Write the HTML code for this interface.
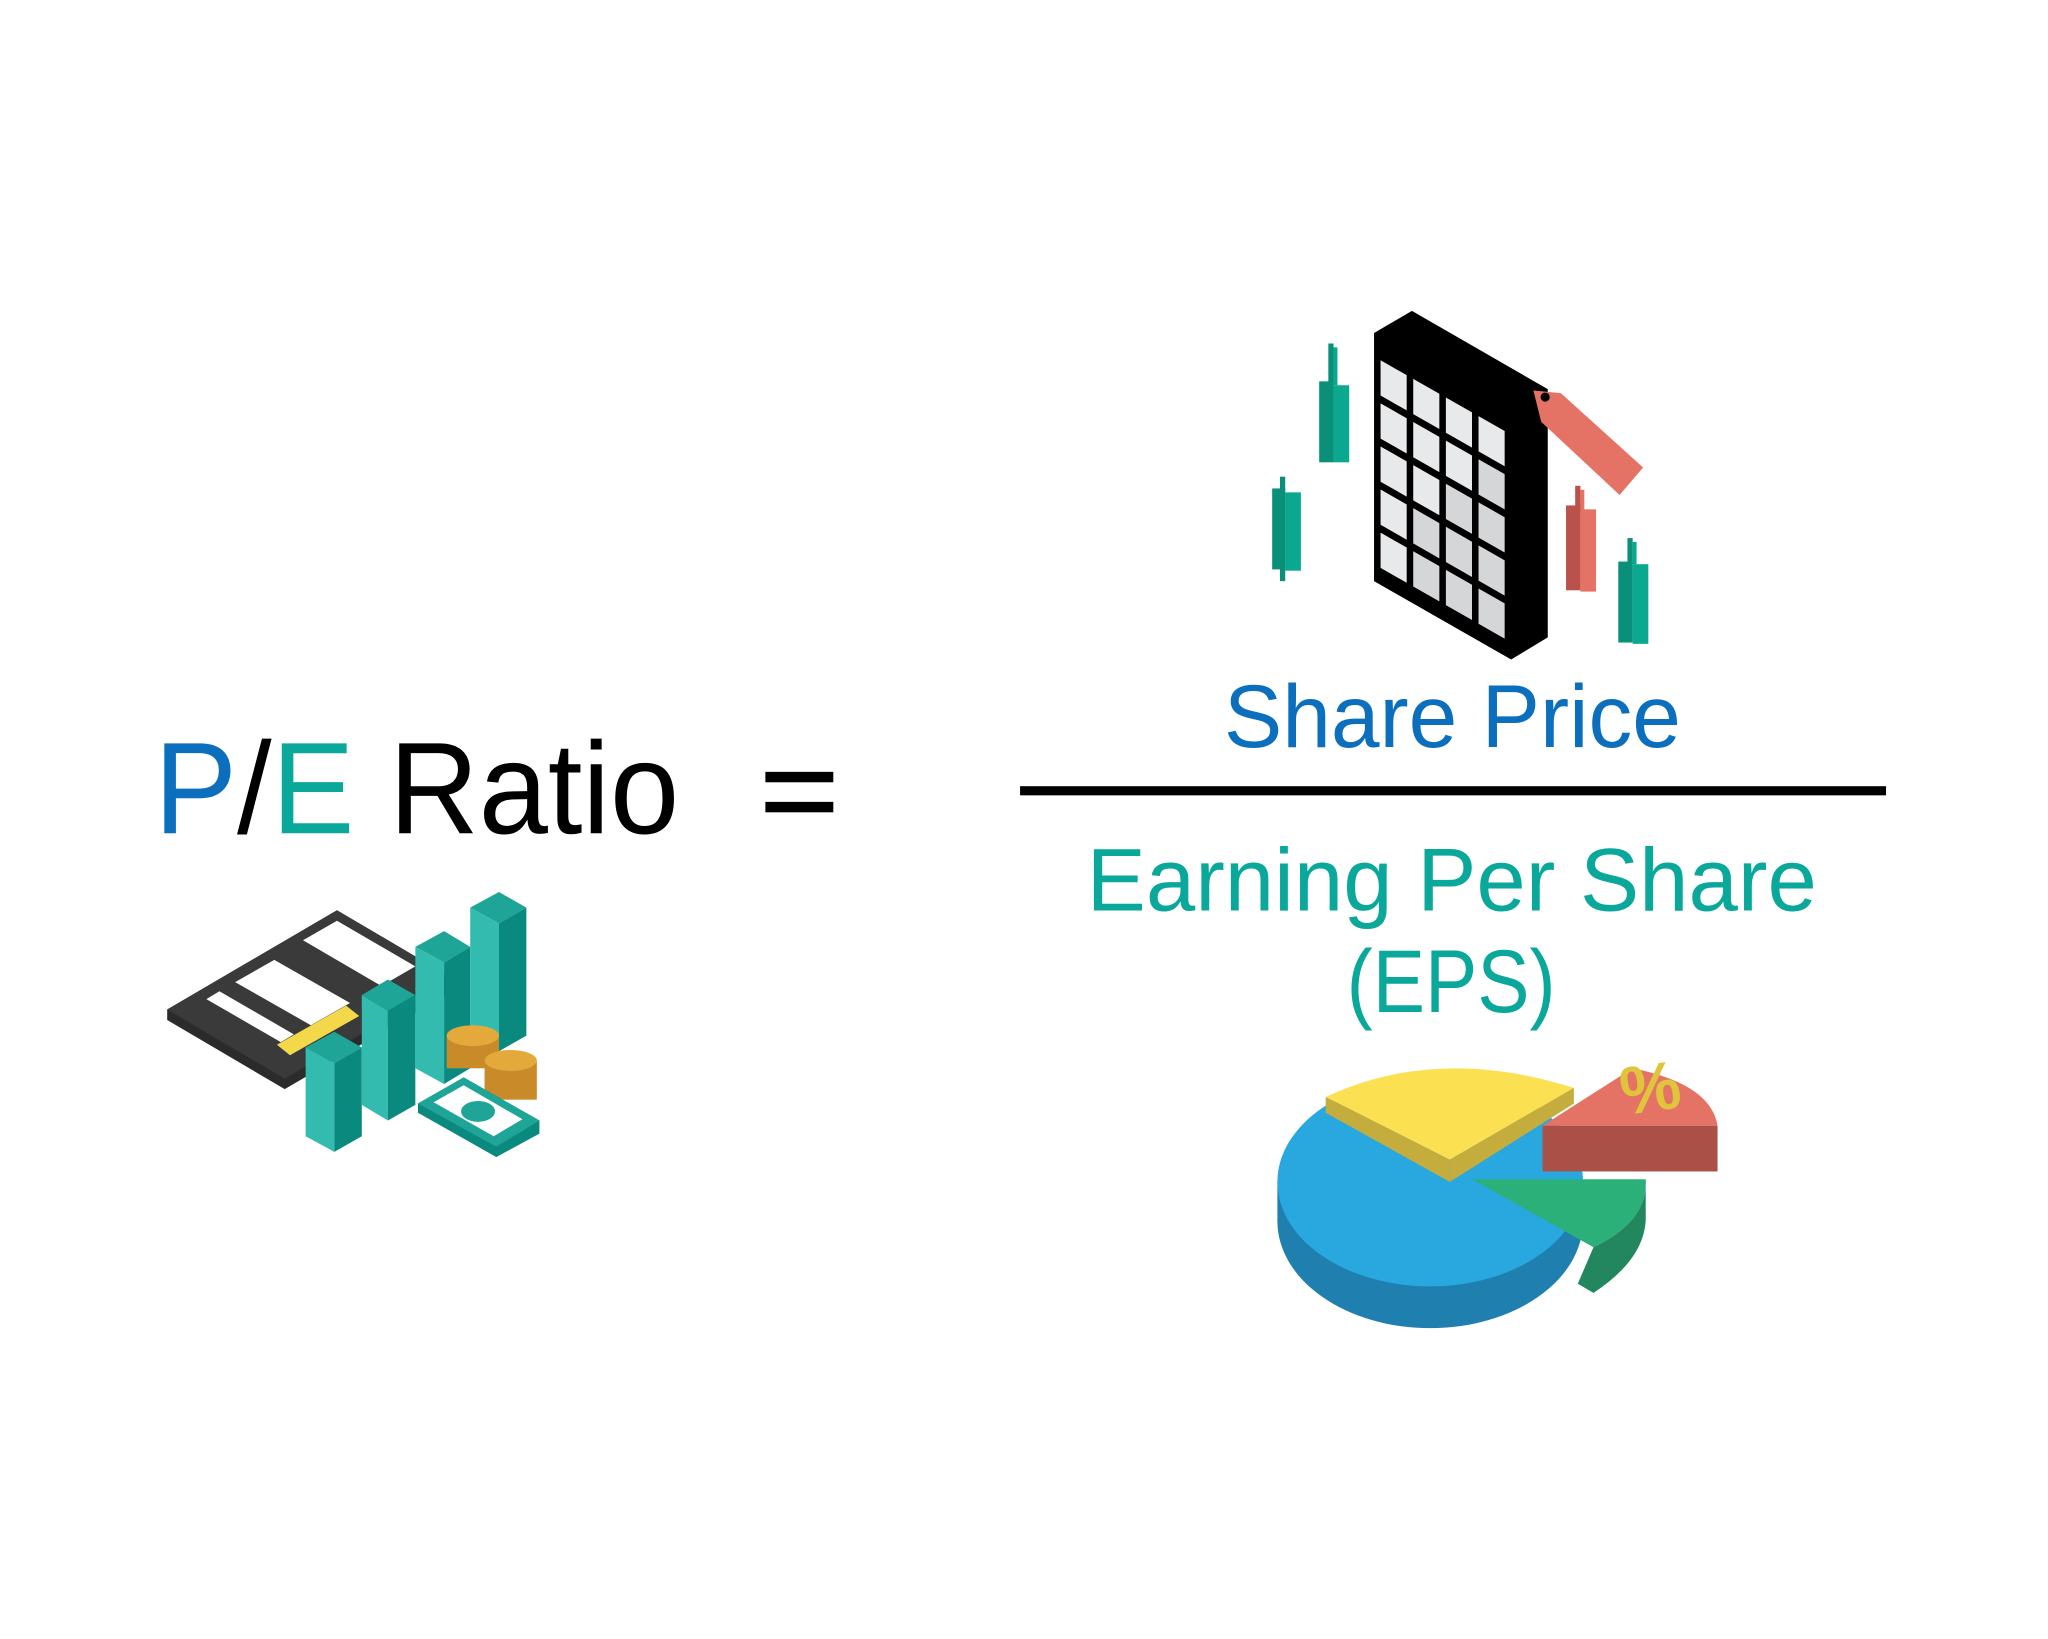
<!DOCTYPE html>
<html><head><style>html,body{margin:0;padding:0;background:#fff}svg{display:block}</style></head>
<body>
<svg width="2048" height="1639" viewBox="0 0 1568 1255" preserveAspectRatio="none" xmlns="http://www.w3.org/2000/svg" font-family="'Liberation Sans', 'DejaVu Sans', sans-serif">
<rect width="1568" height="1255" fill="#fff"/>
<text x="118" y="638" font-size="100" textLength="402" lengthAdjust="spacingAndGlyphs"><tspan fill="#0b6fbd">P</tspan><tspan fill="#000">/</tspan><tspan fill="#0aa89a">E</tspan><tspan fill="#000"> Ratio</tspan></text>
<rect x="586" y="591" width="52" height="8" fill="#000"/>
<rect x="586" y="614" width="52" height="8" fill="#000"/>
<text x="937" y="572" font-size="68" fill="#0b6fbd" textLength="350" lengthAdjust="spacingAndGlyphs">Share Price</text>
<rect x="781" y="602" width="663" height="7" fill="#000"/>
<text x="832" y="697" font-size="68" fill="#0aa89a" textLength="559" lengthAdjust="spacingAndGlyphs">Earning Per Share</text>
<text x="1031" y="775" font-size="68" fill="#0aa89a" textLength="160" lengthAdjust="spacingAndGlyphs">(EPS)</text>

<polygon points="1052,255 1081,238 1185,298 1185,488 1157,505 1052,445" fill="#000"/>
<g transform="translate(1052,255) skewY(29.7)">
  <g fill="#e8e9ea">
    <rect x="5" y="18" width="20" height="27"/><rect x="30" y="18" width="20" height="27"/><rect x="55" y="18" width="20" height="27"/><rect x="80" y="18" width="20" height="27"/>
    <rect x="5" y="51" width="20" height="27"/><rect x="30" y="51" width="20" height="27"/><rect x="55" y="51" width="20" height="27"/><rect x="80" y="51" width="20" height="27" fill="#d5d6d8"/>
    <rect x="5" y="84" width="20" height="27"/><rect x="30" y="84" width="20" height="27"/><rect x="55" y="84" width="20" height="27" fill="#d5d6d8"/><rect x="80" y="84" width="20" height="27" fill="#d5d6d8"/>
    <rect x="5" y="117" width="20" height="27"/><rect x="30" y="117" width="20" height="27" fill="#d5d6d8"/><rect x="55" y="117" width="20" height="27" fill="#d5d6d8"/><rect x="80" y="117" width="20" height="27" fill="#d5d6d8"/>
    <rect x="5" y="150" width="20" height="27"/><rect x="30" y="150" width="20" height="27" fill="#d5d6d8"/><rect x="55" y="150" width="20" height="27" fill="#d5d6d8"/><rect x="80" y="150" width="20" height="27" fill="#d5d6d8"/>
  </g>
</g>
<polygon points="1174,299 1195,301 1258,358 1240,379 1180,323" fill="#e57365"/>
<circle cx="1183" cy="304" r="3.5" fill="#000"/>
<g>
  <rect x="1017" y="263" width="4" height="32" fill="#0a8f78"/><rect x="1021" y="266" width="3" height="29" fill="#0aa88f"/>
  <rect x="1010" y="292" width="11" height="62" fill="#0a8f78"/><rect x="1021" y="295" width="12" height="59" fill="#0aa88f"/>
  <rect x="980" y="365" width="4" height="80" fill="#0a8f78"/>
  <rect x="974" y="374" width="10" height="62" fill="#0a8f78"/><rect x="984" y="377" width="12" height="60" fill="#0aa88f"/>
  <rect x="1206" y="372" width="4" height="20" fill="#b9524a"/><rect x="1210" y="375" width="3" height="17" fill="#e57365"/>
  <rect x="1199" y="387" width="11" height="65" fill="#b9524a"/><rect x="1210" y="390" width="12" height="63" fill="#e57365"/>
  <rect x="1246" y="412" width="4" height="20" fill="#0a8f78"/><rect x="1250" y="415" width="3" height="17" fill="#0aa88f"/>
  <rect x="1239" y="430" width="11" height="62" fill="#0a8f78"/><rect x="1250" y="432" width="12" height="61" fill="#0aa88f"/>
</g>

<g>
  <ellipse cx="1095" cy="935" rx="117" ry="82" fill="#1f80b0"/>
  <rect x="978" y="905" width="234" height="30" fill="#1f80b0"/>
  <ellipse cx="1095" cy="905" rx="117" ry="80" fill="#29a8e0"/>
  <path d="M1110,888 L1015,840 Q1100,800 1205,833 Z" fill="#fbe052"/>
  <path d="M1015,840 L1015,852 L1110,905 L1110,888 Z" fill="#c4ad3c"/>
  <path d="M1110,888 L1205,833 L1205,845 L1110,905 Z" fill="#c4ad3c"/>
  <path d="M1127,903 L1260,903 Q1262,935 1220,955 Z" fill="#2bb07a"/>
  <path d="M1220,955 Q1262,935 1260,903 L1260,935 Q1258,965 1220,990 L1208,983 L1220,955 Z" fill="#22865e"/>
  <path d="M1181,862 L1250,818 Q1310,830 1315,862 Z" fill="#e57365"/>
  <rect x="1181" y="862" width="134" height="35" fill="#aa5047"/>
  <text x="1240" y="850" font-size="52" font-weight="bold" fill="#e0c43c" transform="rotate(-8 1270 830)">%</text>
</g>

<g>
  <polygon points="128,773 258,697 348,750 348,758 218,834 128,781" fill="#2b2b2b"/>
  <polygon points="128,773 258,697 348,750 218,826" fill="#3a3a3a"/>
  <polygon points="232,720 258,705 318,740 292,755" fill="#ffffff"/>
  <g fill="#fff">
    <polygon points="180,752 210,735 268,768 238,785"/>
    <polygon points="158,765 168,759 225,792 215,798"/>
  </g>
  <polygon points="212,800 265,770 275,778 222,808" fill="#f3d84a"/>
  <polygon points="234,802 256,790 277,802 256,814" fill="#1ea597"/>
  <polygon points="234,802 256,814 256,882 234,870" fill="#33bbb0"/>
  <polygon points="256,814 277,802 277,870 256,882" fill="#0a8a7e"/>
  <polygon points="277,762 297,750 318,762 297,774" fill="#1ea597"/>
  <polygon points="277,762 297,774 297,858 277,846" fill="#33bbb0"/>
  <polygon points="297,774 318,762 318,846 297,858" fill="#0a8a7e"/>
  <polygon points="318,725 340,713 360,725 340,737" fill="#1ea597"/>
  <polygon points="318,725 340,737 340,830 318,818" fill="#33bbb0"/>
  <polygon points="340,737 360,725 360,818 340,830" fill="#0a8a7e"/>
  <polygon points="360,695 382,683 403,695 382,707" fill="#1ea597"/>
  <polygon points="360,695 382,707 382,805 360,793" fill="#33bbb0"/>
  <polygon points="382,707 403,695 403,793 382,805" fill="#0a8a7e"/>
  <rect x="342" y="793" width="40" height="25" fill="#c98a2a"/>
  <ellipse cx="362" cy="793" rx="20" ry="8" fill="#e3a93a"/>
  <rect x="371" y="812" width="40" height="30" fill="#c98a2a"/>
  <ellipse cx="391" cy="812" rx="20" ry="8" fill="#e3a93a"/>
  <polygon points="320,845 355,825 413,858 413,868 380,886 320,852" fill="#0a8a7e"/>
  <polygon points="320,845 355,825 413,858 380,878" fill="#1ea597"/>
  <polygon points="332,844 355,831 400,857 378,870" fill="#fff"/>
  <ellipse cx="366" cy="851" rx="13" ry="8" fill="#1ea597"/>
</g>
</svg>
</body></html>
